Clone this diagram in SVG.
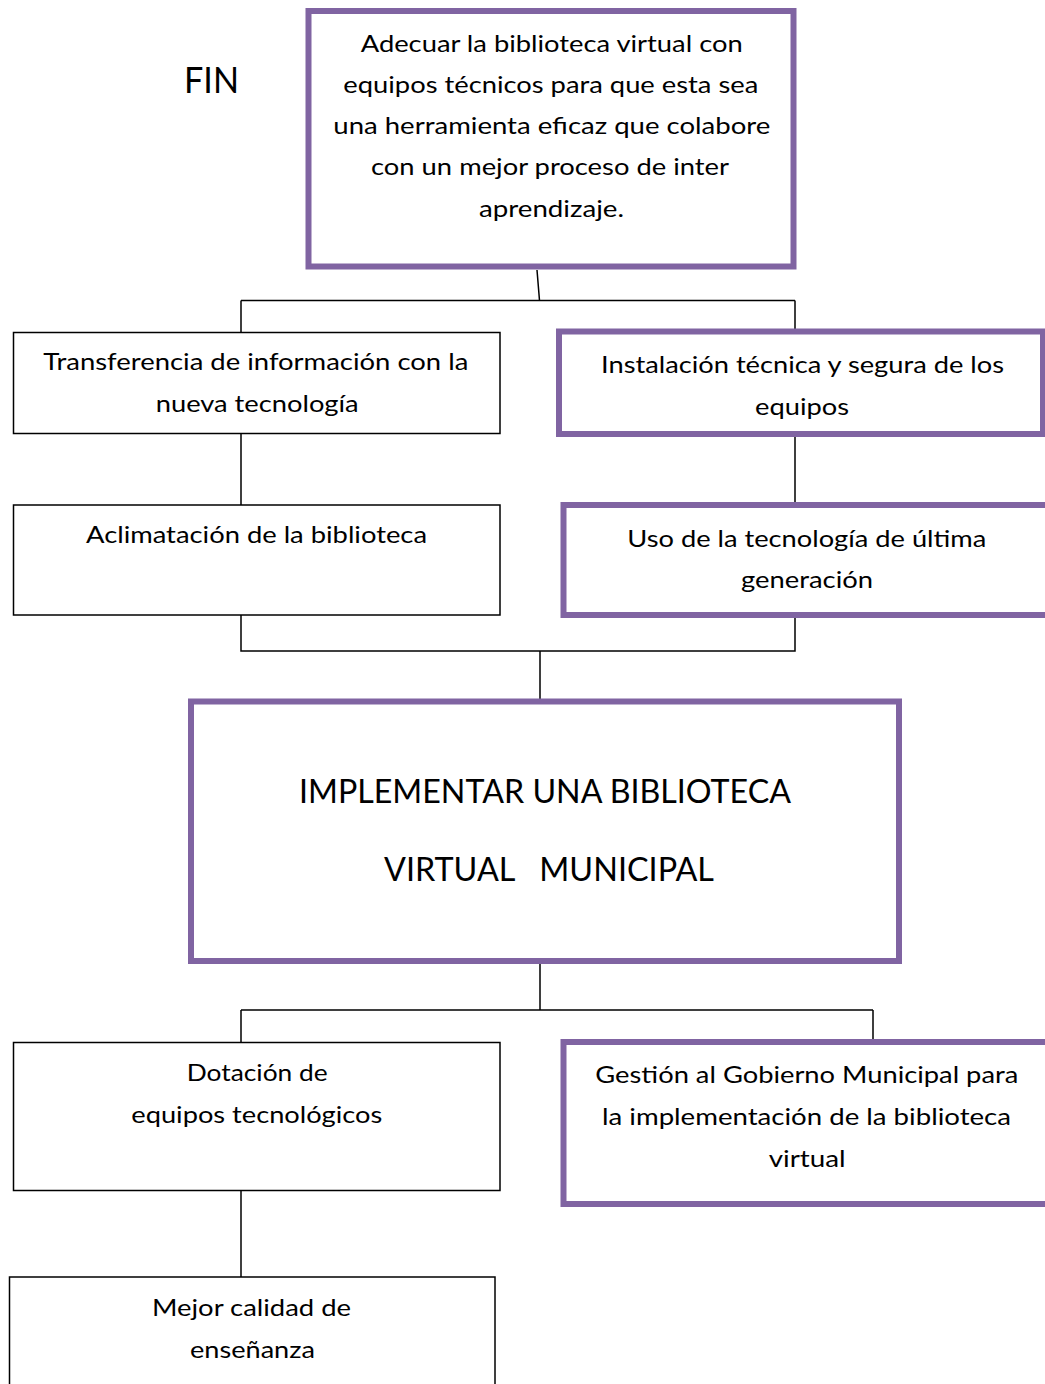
<svg xmlns="http://www.w3.org/2000/svg" width="1045" height="1384" viewBox="0 0 1045 1384">
<style>
.bg{fill:#ffffff}
.pbox{fill:#ffffff;stroke:#8064A2;stroke-width:6}
.kbox{fill:#ffffff;stroke:#000000;stroke-width:1.5}
.conn{fill:none;stroke:#000000;stroke-width:1.5}
.t{font-family:Lato,"Liberation Sans",sans-serif;font-size:24px;fill:#000000;text-anchor:start}
.big{font-size:33px}
.fin{font-size:36px}
</style>
<rect class="bg" x="0" y="0" width="1045" height="1384"/>
<g id="connectors">
  <path class="conn" d="M537 270 L539.5 300.5 M241 300.5 H795 M241 300.5 V332 M795 300.5 V330"/>
  <path class="conn" d="M241 434 V505 M795 437 V503"/>
  <path class="conn" d="M241 615 V651 H795 V618 M540 651 V699"/>
  <path class="conn" d="M540 964 V1010 M241 1010 H873 M241 1010 V1042 M873 1010 V1040"/>
  <path class="conn" d="M241 1191 V1277"/>
</g>
<g id="label-fin">
  <text class="t fin" x="184" y="93" textLength="55" lengthAdjust="spacingAndGlyphs">FIN</text>
</g>
<g id="node-fin">
  <rect class="pbox" x="308.5" y="11" width="485" height="255.5"/>
  <text class="t" x="360.7" y="52" textLength="382" lengthAdjust="spacingAndGlyphs">Adecuar la biblioteca virtual con</text>
  <text class="t" x="343.3" y="93" textLength="415" lengthAdjust="spacingAndGlyphs">equipos técnicos para que esta sea</text>
  <text class="t" x="333.3" y="134" textLength="437" lengthAdjust="spacingAndGlyphs">una herramienta eficaz que colabore</text>
  <text class="t" x="371" y="175" textLength="358" lengthAdjust="spacingAndGlyphs">con un mejor proceso de inter</text>
  <text class="t" x="479" y="217" textLength="145" lengthAdjust="spacingAndGlyphs">aprendizaje.</text>
</g>
<g id="node-transferencia">
  <rect class="kbox" x="13.5" y="332.5" width="486.5" height="101"/>
  <text class="t" x="43.3" y="370" textLength="425" lengthAdjust="spacingAndGlyphs">Transferencia de información con la</text>
  <text class="t" x="155.7" y="412" textLength="203" lengthAdjust="spacingAndGlyphs">nueva tecnología</text>
</g>
<g id="node-instalacion">
  <rect class="pbox" x="559" y="331.5" width="484" height="102.5"/>
  <text class="t" x="601" y="373" textLength="403" lengthAdjust="spacingAndGlyphs">Instalación técnica y segura de los</text>
  <text class="t" x="755" y="415" textLength="94" lengthAdjust="spacingAndGlyphs">equipos</text>
</g>
<g id="node-aclimatacion">
  <rect class="kbox" x="13.5" y="505" width="486.5" height="110"/>
  <text class="t" x="86" y="543" textLength="341" lengthAdjust="spacingAndGlyphs">Aclimatación de la biblioteca</text>
</g>
<g id="node-uso">
  <rect class="pbox" x="563.5" y="505" width="490" height="110"/>
  <text class="t" x="627.3" y="547" textLength="359" lengthAdjust="spacingAndGlyphs">Uso de la tecnología de última</text>
  <text class="t" x="741" y="588" textLength="132" lengthAdjust="spacingAndGlyphs">generación</text>
</g>
<g id="node-proposito">
  <rect class="pbox" x="191" y="701.5" width="708" height="259.5"/>
  <text class="t big" x="299" y="803" textLength="492" lengthAdjust="spacingAndGlyphs">IMPLEMENTAR UNA BIBLIOTECA</text>
  <text class="t big" x="384" y="881" textLength="330" lengthAdjust="spacingAndGlyphs" xml:space="preserve">VIRTUAL   MUNICIPAL</text>
</g>
<g id="node-dotacion">
  <rect class="kbox" x="13.5" y="1042.5" width="486.5" height="148"/>
  <text class="t" x="186.7" y="1081" textLength="141" lengthAdjust="spacingAndGlyphs">Dotación de</text>
  <text class="t" x="131.3" y="1123" textLength="251" lengthAdjust="spacingAndGlyphs">equipos tecnológicos</text>
</g>
<g id="node-gestion">
  <rect class="pbox" x="563.5" y="1042" width="490" height="162"/>
  <text class="t" x="595.3" y="1083" textLength="423" lengthAdjust="spacingAndGlyphs">Gestión al Gobierno Municipal para</text>
  <text class="t" x="602" y="1125" textLength="409" lengthAdjust="spacingAndGlyphs">la implementación de la biblioteca</text>
  <text class="t" x="768.7" y="1167" textLength="77" lengthAdjust="spacingAndGlyphs">virtual</text>
</g>
<g id="node-mejor">
  <rect class="kbox" x="9.5" y="1277" width="485.5" height="120"/>
  <text class="t" x="152" y="1316" textLength="199" lengthAdjust="spacingAndGlyphs">Mejor calidad de</text>
  <text class="t" x="190" y="1358" textLength="125" lengthAdjust="spacingAndGlyphs">enseñanza</text>
</g>
</svg>
